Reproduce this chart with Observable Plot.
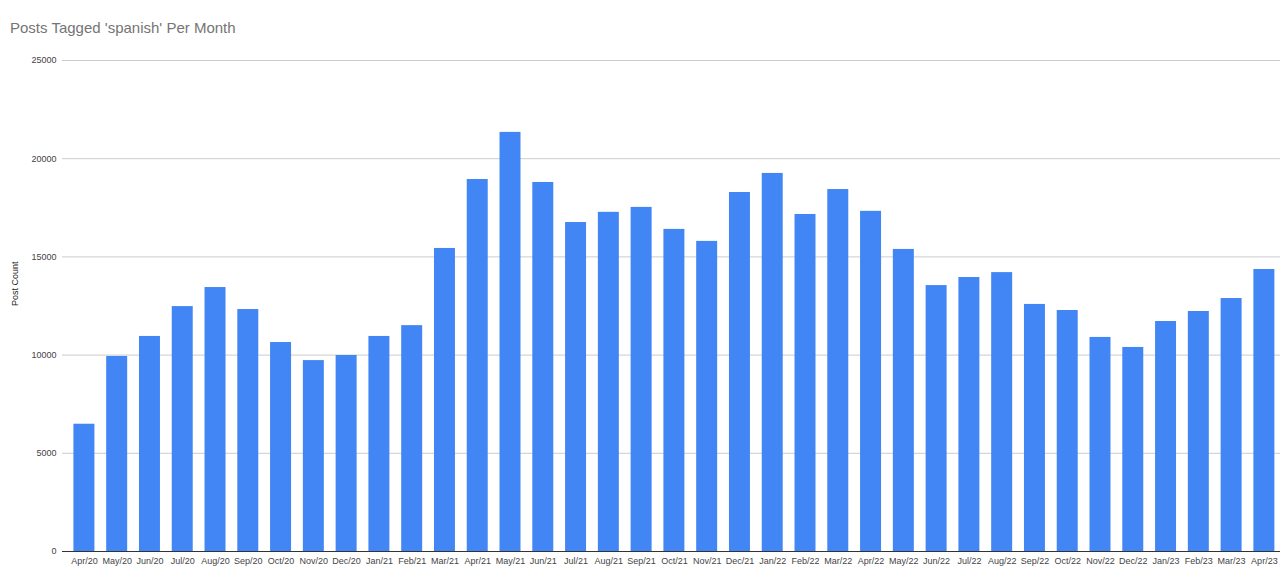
<!DOCTYPE html>
<html>
<head>
<meta charset="utf-8">
<script src="https://cdn.jsdelivr.net/npm/d3@7"></script>
<script src="https://cdn.jsdelivr.net/npm/@observablehq/plot@0.6"></script>
<style>
  html, body { margin: 0; padding: 0; background: #fff; }
  #title { font-family: "Liberation Sans", Arial, sans-serif; font-size: 15px; color: #757575; height: 45px; line-height: 20px; padding: 18px 0 0 10px; box-sizing: border-box; }
  #chart svg { display: block; }
</style>
</head>
<body>
<div id="title">Posts Tagged 'spanish' Per Month</div>
<div id="chart"></div>
<script>
const months = ["Apr/20","May/20","Jun/20","Jul/20","Aug/20","Sep/20","Oct/20","Nov/20","Dec/20","Jan/21","Feb/21","Mar/21","Apr/21","May/21","Jun/21","Jul/21","Aug/21","Sep/21","Oct/21","Nov/21","Dec/21","Jan/22","Feb/22","Mar/22","Apr/22","May/22","Jun/22","Jul/22","Aug/22","Sep/22","Oct/22","Nov/22","Dec/22","Jan/23","Feb/23","Mar/23","Apr/23"];
const postCounts = [6480,9930,10950,12470,13440,12320,10640,9720,9980,10950,11500,15430,18940,21340,18790,16750,17270,17520,16400,15790,18280,19250,17160,18430,17320,15380,13540,13950,14200,12580,12270,10900,10390,11710,12220,12880,14360];
const yTicks = [0,5000,10000,15000,20000,25000];
const data = months.map((m, i) => ({month: m, count: postCounts[i]}));

const chart = Plot.plot({
  width: 1280,
  height: 537,
  marginTop: 15,
  marginBottom: 31,
  marginLeft: 62,
  marginRight: 0,
  style: {fontFamily: "'Liberation Sans', Arial, sans-serif", fontSize: "9px", color: "#444", background: "#fff"},
  x: {domain: months, paddingInner: 0.36, paddingOuter: 0.26, align: 0.67, round: false, label: null},
  y: {domain: [0, 25000], label: null},
  marks: [
    Plot.gridY(yTicks, {stroke: "#cccccc", strokeOpacity: 1}),
    Plot.barY(data, {x: "month", y: "count", fill: "#4285f4"}),
    Plot.ruleY([0], {stroke: "#333", strokeWidth: 1}),
    Plot.axisX({tickSize: 0, tickPadding: 6, label: null}),
    Plot.axisY(yTicks, {tickSize: 0, tickPadding: 6, label: null, tickFormat: d => String(d)}),
    Plot.text(["Post Count"], {frameAnchor: "left", dx: -47, rotate: -90, fontSize: 9, fill: "#222"})
  ]
});
document.getElementById("chart").appendChild(chart);
</script>
</body>
</html>
